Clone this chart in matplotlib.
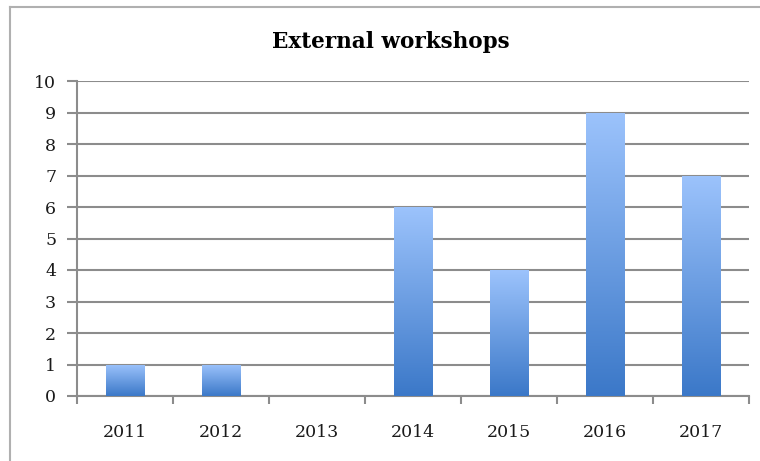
import matplotlib.pyplot as plt
import numpy as np
from matplotlib.colors import LinearSegmentedColormap
from matplotlib.lines import Line2D

# dados
anos = ['2011', '2012', '2013', '2014', '2015', '2016', '2017']
workshops = [1, 1, 0, 6, 4, 9, 7]
titulo = 'External workshops'

plt.rcParams['font.family'] = ['DejaVu Serif']

fig = plt.figure(figsize=(7.6, 4.61), dpi=100)
ax = fig.add_axes([77 / 760, 1 - 396 / 461, 672 / 760, 315 / 461])

x = np.arange(len(anos))
barras = ax.bar(x, workshops, width=0.4, color='none', zorder=3)

# gradiente em cada barra (escuro embaixo, claro em cima)
cmap = LinearSegmentedColormap.from_list('grad', ['#3b78c8', '#9cc3fc'])
grad = np.linspace(0, 1, 256).reshape(-1, 1)
for b in barras:
    if b.get_height() == 0:
        continue
    x0, y0 = b.get_x(), b.get_y()
    im = ax.imshow(grad, cmap=cmap, origin='lower', aspect='auto',
                   extent=[x0, x0 + b.get_width(), y0, y0 + b.get_height()], zorder=3)
    im.set_clip_path(b)

ax.set_xlim(-0.5, len(anos) - 0.5)
ax.set_ylim(0, 10)
ax.set_yticks(range(0, 11))
ax.set_xticks(x)
ax.set_xticklabels(anos)
ax.set_xticks(np.arange(-0.5, len(anos)), minor=True)

ax.grid(True, axis='y', color='#8c8c8c', linewidth=1.5, zorder=0)
ax.set_axisbelow(True)
for lado in ['top', 'right']:
    ax.spines[lado].set_visible(False)
for lado in ['left', 'bottom']:
    ax.spines[lado].set_color('#8c8c8c')
    ax.spines[lado].set_linewidth(1.5)

ax.tick_params(axis='y', length=7, width=1.5, color='#8c8c8c', labelsize=12.5, pad=8,
               labelcolor='#1a1a1a')
ax.tick_params(axis='x', which='major', length=0, labelsize=12.5, pad=20,
               labelcolor='#1a1a1a')
ax.tick_params(axis='x', which='minor', length=6, width=1.5, color='#8c8c8c')

fig.text(391 / 760, 1 - 42 / 461, titulo, ha='center', va='center',
         fontsize=15.5, fontweight='bold')

# moldura
fig.add_artist(Line2D([10 / 760, 10 / 760], [0, 1 - 7 / 461], color='#b0b0b0', lw=1.5,
                      transform=fig.transFigure))
fig.add_artist(Line2D([10 / 760, 1], [1 - 7 / 461, 1 - 7 / 461], color='#b0b0b0', lw=1.5,
                      transform=fig.transFigure))

fig.savefig('out.png', dpi=100)
